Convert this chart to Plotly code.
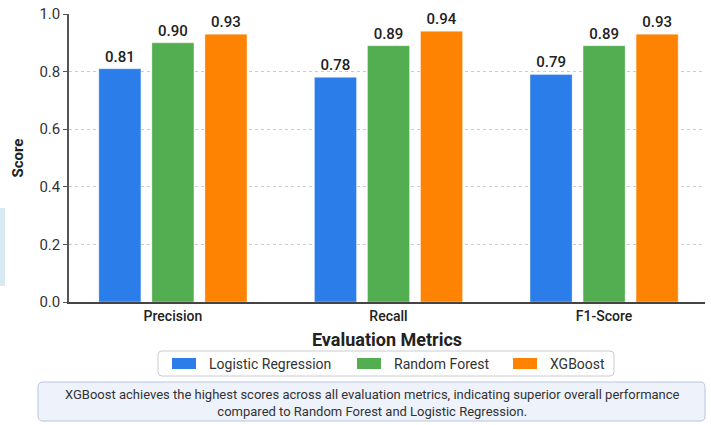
import plotly.graph_objects as go

# Evaluation results
metrics = ["Precision", "Recall", "F1-Score"]
models = ["Logistic Regression", "Random Forest", "XGBoost"]
scores = {
    "Logistic Regression": [0.81, 0.78, 0.79],
    "Random Forest": [0.90, 0.89, 0.89],
    "XGBoost": [0.93, 0.94, 0.93],
}
colors = {
    "Logistic Regression": "#2B7DE9",
    "Random Forest": "#53AE51",
    "XGBoost": "#FF8303",
}
y_ticks = [0.0, 0.2, 0.4, 0.6, 0.8, 1.0]
summary = ("XGBoost achieves the highest scores across all evaluation metrics, indicating superior overall performance<br>"
           "compared to Random Forest and Logistic Regression.")

W, H = 711, 425
L, R, T, B = 69, 6, 14, 123
PW, PH = W - L - R, H - T - B
FONT = "Roboto, Inter, Arial, sans-serif"


def px(x):
    return (x - L) / PW


def py(y):
    return (H - B - y) / PH


def rounded_box(x0, y0, x1, y1, r):
    # rounded rectangle path in paper coordinates, from pixel positions
    rx, ry = r / PW, r / PH
    a, b, c, d = px(x0), py(y1), px(x1), py(y0)
    return (f"M{a+rx},{b} L{c-rx},{b} Q{c},{b} {c},{b+ry} L{c},{d-ry} Q{c},{d} {c-rx},{d} "
            f"L{a+rx},{d} Q{a},{d} {a},{d-ry} L{a},{b+ry} Q{a},{b} {a+rx},{b} Z")


fig = go.Figure()
for m in models:
    fig.add_trace(go.Bar(
        x=metrics, y=scores[m], name=m,
        marker=dict(color=colors[m], line=dict(color="rgba(255,255,255,0.35)", width=1)),
        text=[f"{v:.2f}" for v in scores[m]], textposition="outside",
        textfont=dict(family=FONT, size=15, color="#222", weight=500),
        cliponaxis=False, showlegend=False,
    ))

shapes = []
annotations = []

# legend box
shapes.append(dict(type="path", xref="paper", yref="paper",
                   path=rounded_box(158, 351, 614, 376, 4),
                   line=dict(color="#c8ccd2", width=1), fillcolor="white", layer="below"))
legend_x = [172, 357, 513]
for m, lx in zip(models, legend_x):
    shapes.append(dict(type="rect", xref="paper", yref="paper",
                       x0=px(lx), x1=px(lx + 24), y0=py(369), y1=py(358),
                       fillcolor=colors[m], line=dict(width=0)))
    annotations.append(dict(xref="paper", yref="paper", x=px(lx + 35), y=py(363.5),
                            text=m, showarrow=False, xanchor="left", yanchor="middle",
                            font=dict(family=FONT, size=14, color="#333")))

# summary box
shapes.append(dict(type="path", xref="paper", yref="paper",
                   path=rounded_box(38, 382, 705, 421, 5),
                   line=dict(color="#b9c6dc", width=1), fillcolor="#eef2fb", layer="below"))
annotations.append(dict(xref="paper", yref="paper", x=px(372), y=py(402.5),
                        text=summary, showarrow=False, xanchor="center", yanchor="middle",
                        align="center",
                        font=dict(family=FONT, size=13, color="#333")))

# side panel edge
shapes.append(dict(type="rect", xref="paper", yref="paper",
                   x0=px(-2), x1=px(5), y0=py(286), y1=py(208),
                   fillcolor="#d7e9f3", line=dict(width=0), layer="below"))

fig.update_layout(
    width=W, height=H,
    margin=dict(l=L, r=R, t=T, b=B),
    paper_bgcolor="white", plot_bgcolor="white",
    barmode="group", bargap=0.262, bargroupgap=0.207,
    font=dict(family=FONT, color="#333"),
    shapes=shapes, annotations=annotations,
    xaxis=dict(
        range=[-0.482, 2.468],
        showline=True, linecolor="#444", linewidth=1.5,
        showgrid=False, ticks="",
        tickfont=dict(family=FONT, size=14, color="#222", weight=500),
        title=dict(text="Evaluation Metrics", standoff=11,
                   font=dict(family=FONT, size=18, color="#222", weight="bold")),
    ),
    yaxis=dict(
        range=[0, 1.0], tickvals=y_ticks, ticktext=[f"{v:.1f}" for v in y_ticks],
        showline=True, linecolor="#555", linewidth=1.5,
        ticks="outside", ticklen=4, tickcolor="#555",
        showgrid=True, gridcolor="#cccccc", griddash="3px,3px", gridwidth=1,
        zeroline=False,
        tickfont=dict(family=FONT, size=15, color="#333"),
        title=dict(text="Score", standoff=12,
                   font=dict(family=FONT, size=15, color="#222", weight="bold")),
    ),
)

fig.write_html("out.html")
